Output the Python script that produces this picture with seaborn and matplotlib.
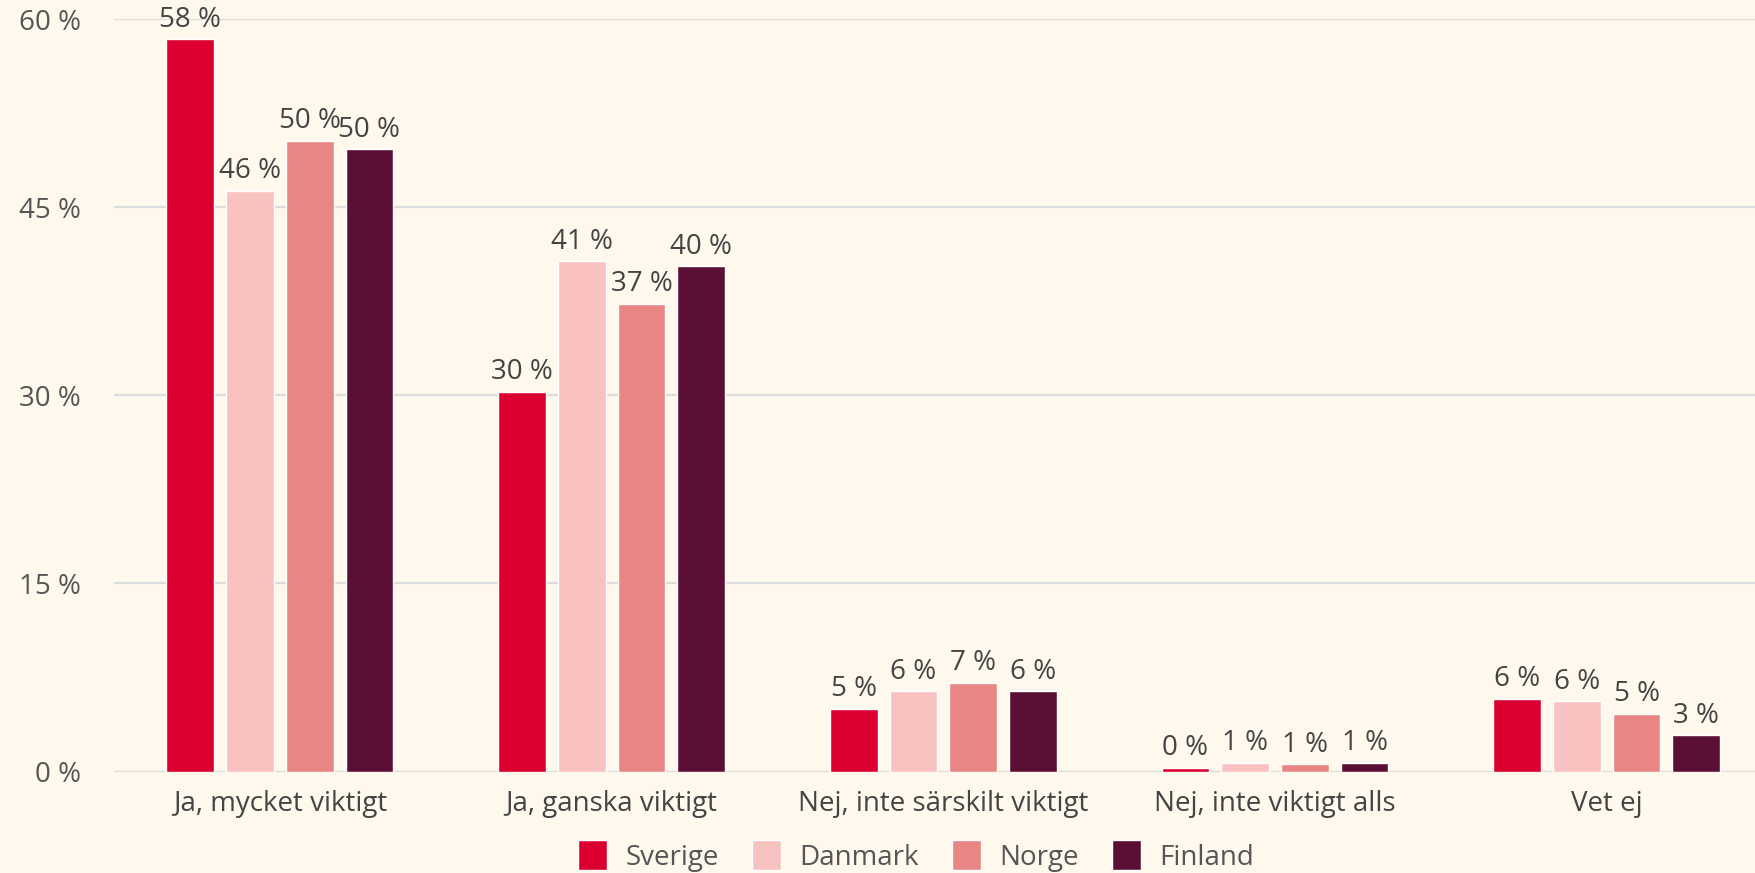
import matplotlib
matplotlib.use("Agg")
import matplotlib.pyplot as plt
import seaborn as sns
import pandas as pd

categories = ["Ja, mycket viktigt", "Ja, ganska viktigt", "Nej, inte särskilt viktigt",
              "Nej, inte viktigt alls", "Vet ej"]
countries = ["Sverige", "Danmark", "Norge", "Finland"]
sverige = [58.4, 30.3, 5.0, 0.3, 5.8]
danmark = [46.3, 40.7, 6.4, 0.7, 5.6]
norge = [50.3, 37.3, 7.1, 0.6, 4.6]
finland = [49.6, 40.3, 6.4, 0.7, 2.9]
yticks = [0, 15, 30, 45, 60]
colors = ["#DC0030", "#F7C2C0", "#E88683", "#5C0F35"]

rows = []
for country, vals in zip(countries, [sverige, danmark, norge, finland]):
    for cat, v in zip(categories, vals):
        rows.append({"category": cat, "country": country, "value": v})
df = pd.DataFrame(rows)

bg = "#FEF9EC"
sns.set_theme(style="white")
plt.rcParams["font.family"] = ["Open Sans", "DejaVu Sans"]

FS = 20
fig = plt.figure(figsize=(17.56, 8.73), dpi=100, facecolor=bg)
ax = fig.add_axes([114 / 1756, 1 - 771.6 / 873, 1 - 114 / 1756, (771.6 - 19) / 873])
ax.set_facecolor(bg)

sns.barplot(data=df, x="category", y="value", hue="country", hue_order=countries,
            order=categories, palette=colors, width=0.72, gap=0.2, saturation=1,
            ax=ax, zorder=3, legend=True, errorbar=None)

for container in ax.containers:
    labels = [f"{int(round(b.get_height()))} %" for b in container]
    ax.bar_label(container, labels=labels, padding=4, fontsize=FS, color="#444444")

ax.set_ylim(0, 60)
ax.set_xlim(-0.5, 4.45)
ax.set_yticks(yticks)
ax.set_yticklabels([f"{t} %" for t in yticks])
ax.yaxis.grid(True, color="#DCDCDC", linewidth=1.6, zorder=0)
ax.set_axisbelow(True)
for s in ax.spines.values():
    s.set_visible(False)
ax.tick_params(axis="y", length=0, pad=24, labelsize=FS, labelcolor="#555555")
ax.tick_params(axis="x", length=0, pad=13, labelsize=FS, labelcolor="#444444")
ax.set_xlabel("")
ax.set_ylabel("")

ax.get_legend().remove()
handles, labs = ax.get_legend_handles_labels()
fig.legend(handles, labs, loc="center", bbox_to_anchor=(916 / 1756, 1 - 856 / 873),
           ncol=4, frameon=False, fontsize=FS, handlelength=1.05, handleheight=1.25,
           handletextpad=0.65, columnspacing=1.2, labelcolor="#555555")

fig.savefig("out.png", dpi=100, facecolor=bg)
